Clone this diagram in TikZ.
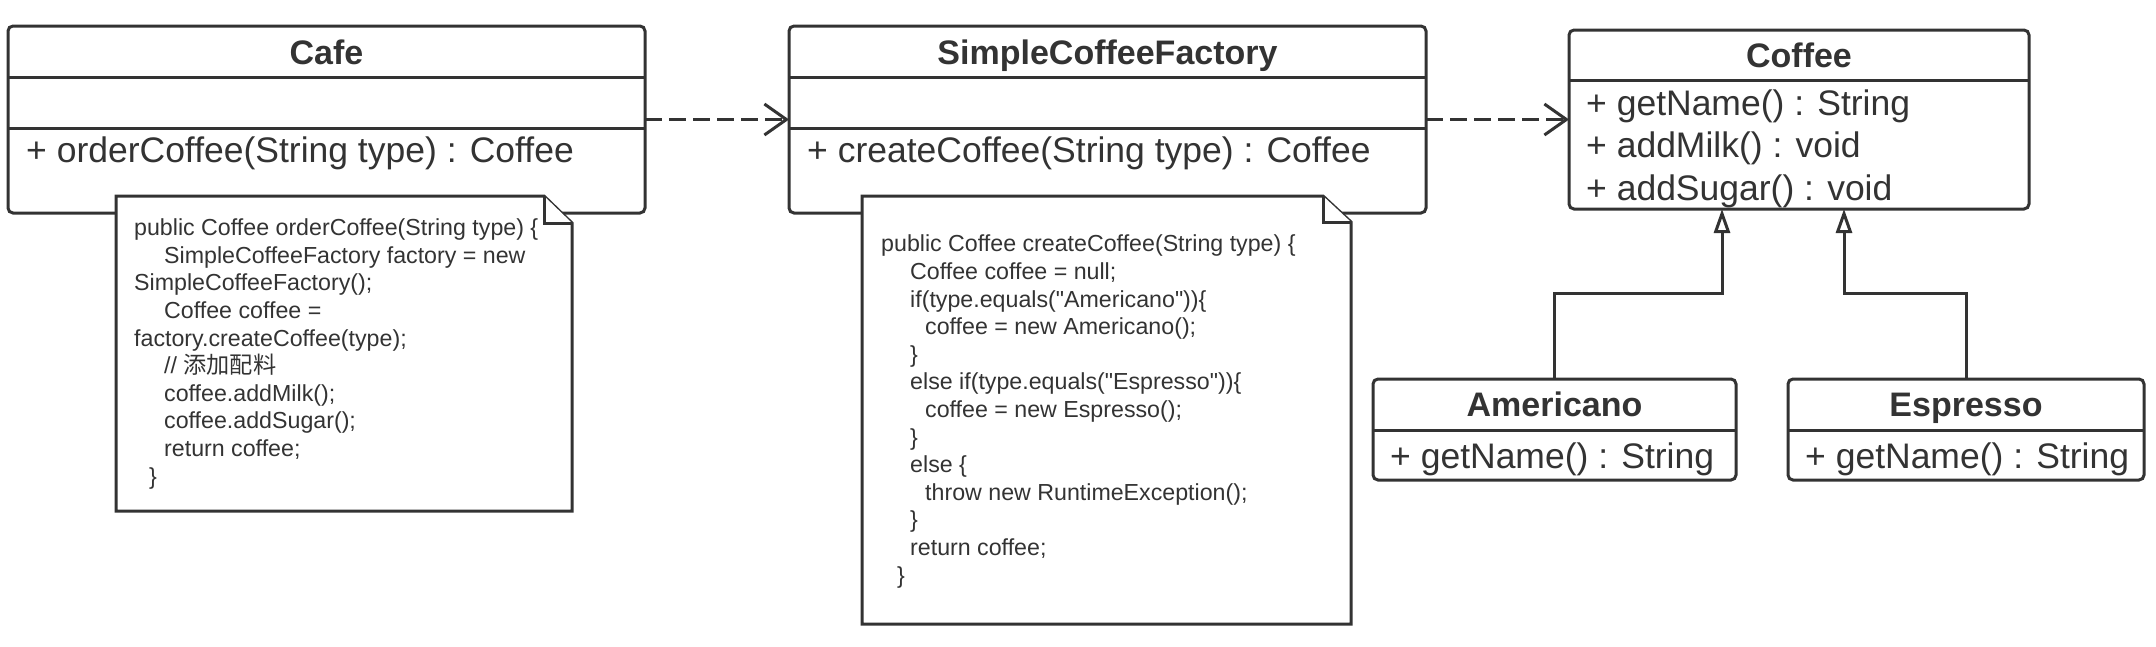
\documentclass[tikz,border=0pt]{standalone}
\usepackage{fontspec}
\setmainfont{Liberation Sans}[Ligatures=TeXOff]
\newfontfamily\cjk{Noto Sans CJK SC}
\usetikzlibrary{positioning, calc, arrows.meta}

\definecolor{umlgray}{HTML}{333333}
\newcommand{\codeind}[1]{\hspace*{#1pt}}

\tikzset{
  classbox/.style={draw=umlgray, line width=3pt, rounded corners=5pt, inner sep=0pt, outer sep=0pt, anchor=north west},
  classname/.style={font=\fontsize{34}{40}\selectfont\bfseries, text=umlgray, inner sep=0pt, anchor=base},
  member/.style={font=\fontsize{35.5}{42.5}\selectfont, text=umlgray, inner sep=0pt, anchor=base west, align=left},
  divider/.style={draw=umlgray, line width=3pt},
  notebox/.style={draw=umlgray, fill=white, line width=3pt, line join=miter},
  notetext/.style={font=\fontsize{23.2}{27.6}\selectfont, text=umlgray, inner sep=0pt, anchor=base west, align=left},
  depend/.style={draw=umlgray, line width=3pt, dash pattern=on 17pt off 7pt, -{Straight Barb[length=22pt, width=31pt]}},
  realize/.style={draw=umlgray, line width=3pt, -{Triangle[open, length=24pt, width=16pt, fill=white]}}
}

\begin{document}
\begin{tikzpicture}[x=1pt, y=-1pt]
  \fill[white] (0,0) rectangle (2156,646);
  \useasboundingbox (0,0) rectangle (2156,646);

  % classes
  \node[classbox, minimum width=637pt, minimum height=187pt] (cafe) at (8,26) {};
  \node[classbox, minimum width=637pt, minimum height=187pt] (factory) at (789,26) {};
  \node[classbox, minimum width=460pt, minimum height=179pt] (coffee) at (1569,30) {};
  \node[classbox, minimum width=363pt, minimum height=101pt] (americano) at (1373,379) {};
  \node[classbox, minimum width=356pt, minimum height=101pt] (espresso) at (1788,379) {};

  \node[classname] (cafeName) at ($(cafe.north)+(0,38)$) {Cafe};
  \node[classname] (factoryName) at ($(factory.north)+(0,38)$) {SimpleCoffeeFactory};
  \node[classname] (coffeeName) at ($(coffee.north)+(0,37)$) {Coffee};
  \node[classname] (americanoName) at ($(americano.north)+(0,37)$) {Americano};
  \node[classname] (espressoName) at ($(espresso.north)+(0,37)$) {Espresso};

  \draw[divider] ($(cafe.north west)+(0,51)$) -- ($(cafe.north east)+(0,51)$);
  \draw[divider] ($(cafe.north west)+(0,102)$) -- ($(cafe.north east)+(0,102)$);
  \draw[divider] ($(factory.north west)+(0,51)$) -- ($(factory.north east)+(0,51)$);
  \draw[divider] ($(factory.north west)+(0,102)$) -- ($(factory.north east)+(0,102)$);
  \draw[divider] ($(coffee.north west)+(0,50)$) -- ($(coffee.north east)+(0,50)$);
  \draw[divider] ($(americano.north west)+(0,51)$) -- ($(americano.north east)+(0,51)$);
  \draw[divider] ($(espresso.north west)+(0,51)$) -- ($(espresso.north east)+(0,51)$);

  \node[member] (cafeOps) at ($(cafe.north west)+(18,136)$) {+ orderCoffee(String type) : Coffee};
  \node[member] (factoryOps) at ($(factory.north west)+(18,136)$) {+ createCoffee(String type) : Coffee};
  \node[member] (coffeeOps) at ($(coffee.north west)+(17,170)$) {+ getName() : String\\+ addMilk() : void\\+ addSugar() : void};
  \node[member] (americanoOps) at ($(americano.north west)+(17,89)$) {+ getName() : String};
  \node[member] (espressoOps) at ($(espresso.north west)+(17,89)$) {+ getName() : String};

  % notes
  \draw[notebox] (116,196) -- (544,196) -- (572,223) -- (572,511) -- (116,511) -- cycle;
  \draw[notebox] (544,196) -- (544,223) -- (572,223);
  \draw[notebox] (862,196) -- (1323,196) -- (1351,222) -- (1351,624) -- (862,624) -- cycle;
  \draw[notebox] (1323,196) -- (1323,222) -- (1351,222);

  \node[notetext] (cafeCode) at (134,484) {public Coffee orderCoffee(String type) \{\\
    \codeind{30}SimpleCoffeeFactory factory = new\\
    SimpleCoffeeFactory();\\
    \codeind{30}Coffee coffee =\\
    factory.createCoffee(type);\\
    \codeind{30}// {\cjk 添加配料}\\
    \codeind{30}coffee.addMilk();\\
    \codeind{30}coffee.addSugar();\\
    \codeind{30}return coffee;\\
    \codeind{15}\}};
  \node[notetext] (factoryCode) at (881,583) {public Coffee createCoffee(String type) \{\\
    \codeind{29}Coffee coffee = null;\\
    \codeind{29}if(type.equals("Americano"))\{\\
    \codeind{44}coffee = new Americano();\\
    \codeind{29}\}\\
    \codeind{29}else if(type.equals("Espresso"))\{\\
    \codeind{44}coffee = new Espresso();\\
    \codeind{29}\}\\
    \codeind{29}else \{\\
    \codeind{44}throw new RuntimeException();\\
    \codeind{29}\}\\
    \codeind{29}return coffee;\\
    \codeind{16}\}};

  % relations
  \path[depend] (cafe) -- (factory);
  \path[depend] (factory) -- (coffee);
  \path[realize] (americano.north) |- ([xshift=-77pt, yshift=-84pt]coffee.south) -- ([xshift=-77pt]coffee.south);
  \path[realize] (espresso.north) |- ([xshift=45pt, yshift=-84pt]coffee.south) -- ([xshift=45pt]coffee.south);
\end{tikzpicture}
\end{document}
